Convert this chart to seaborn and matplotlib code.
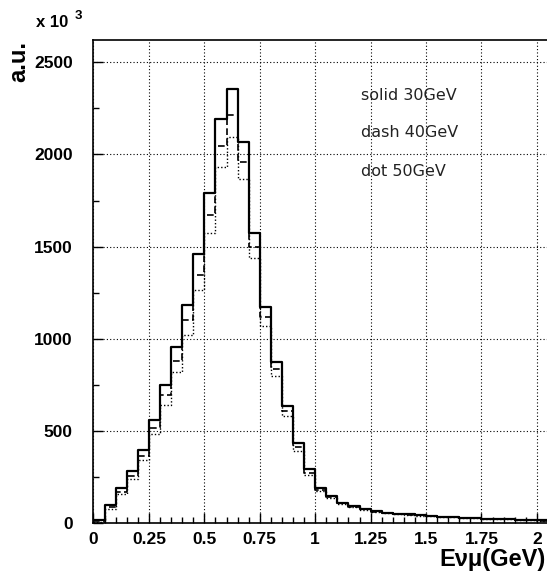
import numpy as np
import pandas as pd
import matplotlib
matplotlib.use("Agg")
import matplotlib.pyplot as plt
from matplotlib.ticker import MultipleLocator, FuncFormatter
import seaborn as sns

# Muon-neutrino energy spectra (in units of 10^3), 0.05 GeV bins from 0 to 2.05 GeV
bin_width = 0.05
solid_30gev = [18, 99, 193, 283, 400, 563, 752, 954, 1185, 1461,
               1789, 2191, 2354, 2065, 1573, 1171, 873, 639, 437, 296,
               193, 149, 113, 95, 79, 66, 59, 53, 50, 46,
               41, 37, 35, 31, 30, 26, 24, 23, 21, 19, 17]
dash_40gev = [14, 88, 171, 260, 368, 518, 698, 878, 1104, 1347,
              1672, 2047, 2213, 1957, 1500, 1118, 837, 608, 413, 274,
              183, 143, 109, 92, 77, 64, 57, 52, 48, 45,
              40, 36, 34, 30, 29, 25, 23, 22, 20, 18, 16]
dot_50gev = [10, 81, 160, 243, 346, 485, 644, 819, 1023, 1266,
             1573, 1930, 2096, 1866, 1441, 1071, 801, 581, 395, 265,
             176, 139, 106, 89, 75, 62, 55, 50, 47, 43,
             39, 35, 33, 29, 28, 25, 23, 22, 20, 18, 16]
legend_lines = ["solid 30GeV", "dash 40GeV", "dot 50GeV"]

n_bins = len(solid_30gev)
edges = np.linspace(0, n_bins * bin_width, n_bins + 1)


def step_frame(values):
    # left bin edges with the last height repeated to close the final bin
    return pd.DataFrame({"E": edges, "count": list(values) + [values[-1]]})


sns.set_style("ticks")
plt.rcParams["font.family"] = ["Liberation Sans", "DejaVu Sans"]
for key in ("text.color", "axes.labelcolor", "xtick.color", "ytick.color",
            "axes.edgecolor"):
    plt.rcParams[key] = "black"

fig = plt.figure(figsize=(5.47, 5.74), dpi=100)
ax = fig.add_axes([0.1709, 0.088, 0.835, 0.8423])

series = [
    (solid_30gev, dict(linestyle="-", linewidth=1.6)),
    (dash_40gev, dict(linestyle=(0, (4, 2)), linewidth=1.2)),
    (dot_50gev, dict(linestyle=(0, (1, 1.5)), linewidth=1.0)),
]
for values, kw in series:
    sns.lineplot(data=step_frame(values), x="E", y="count", estimator=None,
                 drawstyle="steps-post", color="black", ax=ax, **kw)

ax.set_xlim(0, 2.06)
ax.set_ylim(0, 2620)

ax.xaxis.set_major_locator(MultipleLocator(0.25))
ax.xaxis.set_minor_locator(MultipleLocator(0.05))
ax.yaxis.set_major_locator(MultipleLocator(500))
ax.yaxis.set_minor_locator(MultipleLocator(250))
ax.xaxis.set_major_formatter(FuncFormatter(lambda v, p: f"{v:g}"))
ax.yaxis.set_major_formatter(FuncFormatter(lambda v, p: f"{v:.0f}"))

ax.tick_params(which="both", direction="in", top=False, right=False,
               colors="black")
ax.tick_params(which="major", length=7, width=1)
ax.tick_params(which="minor", length=4, width=1)
ax.tick_params(axis="y", which="major", pad=15, labelsize=12.5)
ax.tick_params(axis="x", which="major", pad=6, labelsize=12.5)
for lab in ax.get_xticklabels() + ax.get_yticklabels():
    lab.set_fontweight("bold")

ax.grid(True, which="major", color="black", linestyle=(0, (1, 2)), linewidth=0.8)
for side in ("left", "bottom", "top"):
    ax.spines[side].set_visible(True)
    ax.spines[side].set_linewidth(1.2)
    ax.spines[side].set_color("black")

ax.set_xlabel("")
ax.set_ylabel("")

fig.text(0.998, 0.026, "E\u03bd\u03bc(GeV)", ha="right", va="center",
         fontsize=17, fontweight="bold")
fig.text(0.034, 0.893, "a.u.", rotation=90, ha="center", va="center",
         fontsize=17, fontweight="bold")
fig.text(0.066, 0.960, "x 10", ha="left", va="center", fontsize=12,
         fontweight="bold")
fig.text(0.137, 0.972, "3", ha="left", va="center", fontsize=9.5,
         fontweight="bold")

for label, y in zip(legend_lines, [2294, 2094, 1882]):
    ax.text(1.205, y, label, ha="left", va="baseline", fontsize=11.5,
            family=["DejaVu Sans"], color="#222222")

fig.savefig("out.png", dpi=100)
